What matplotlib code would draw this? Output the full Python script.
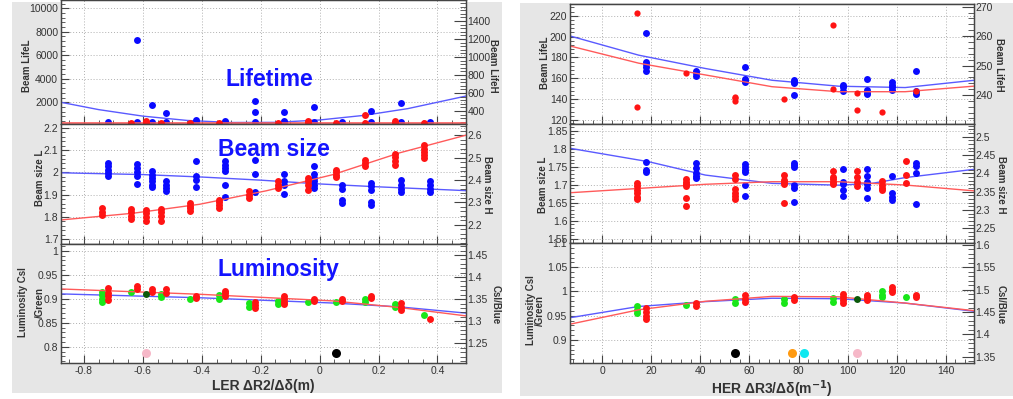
import matplotlib
matplotlib.use("Agg")
import matplotlib.pyplot as plt
from matplotlib.patches import Rectangle
from matplotlib.ticker import AutoMinorLocator, FixedLocator, FuncFormatter

plt.rcParams["font.family"] = ["Liberation Sans", "DejaVu Sans"]

# ---------------- LER scan (left panel) ----------------
ler_x_blue = [-0.72, -0.62, -0.57, -0.52, -0.42, -0.32, -0.22, -0.12, -0.02, 0.075, 0.175, 0.275, 0.375]
ler_x_red_life = [-0.64, -0.59, -0.54, -0.44, -0.34, -0.14, -0.04, 0.055, 0.155, 0.255, 0.355]
ler_x_red = [-0.74, -0.64, -0.59, -0.54, -0.44, -0.34, -0.24, -0.14, -0.04, 0.055, 0.155, 0.255, 0.355]
ler_x_green = [-0.74, -0.64, -0.54, -0.44, -0.34, -0.24, -0.14, -0.04, 0.055, 0.155, 0.255, 0.355]

ler_life_blue = [[330], [7300, 330], [1770, 330], [1065, 330], [495, 330], [410, 300],
                 [2085, 1150, 330], [1200, 440, 300], [1575, 330], [320], [1290, 330],
                 [1970, 330], [360]]
ler_life_red = [[268], [292, 268], [268], [268], [268], [268], [285, 268], [268],
                [356, 268], [290, 268], [268]]

ler_size_blue = [[2.042, 2.027, 2.012, 1.997, 1.982],
                 [2.038, 2.02, 2.002, 1.982, 1.948],
                 [2.005, 1.99, 1.975, 1.96, 1.945, 1.933],
                 [1.963, 1.945, 1.93, 1.918],
                 [2.05, 1.982, 1.967, 1.933],
                 [2.05, 2.035, 2.02, 2.005, 1.945, 1.888],
                 [2.054, 1.993, 1.91],
                 [1.993, 1.96, 1.945, 1.903],
                 [2.027, 1.993, 1.975, 1.96, 1.945, 1.93],
                 [1.942, 1.927, 1.877, 1.862],
                 [1.952, 1.937, 1.922, 1.869, 1.854],
                 [1.964, 1.945, 1.927, 1.91],
                 [1.96, 1.942, 1.927, 1.91]]
ler_size_red = [[2.274, 2.259, 2.244],
                [2.271, 2.256, 2.241, 2.226],
                [2.267, 2.252, 2.237, 2.217],
                [2.271, 2.256, 2.241, 2.217],
                [2.297, 2.286, 2.274, 2.262],
                [2.312, 2.301, 2.289, 2.277],
                [2.349, 2.334, 2.319],
                [2.394, 2.379, 2.364],
                [2.409, 2.394, 2.379, 2.357],
                [2.446, 2.436, 2.424, 2.412],
                [2.491, 2.476, 2.461],
                [2.517, 2.501, 2.483, 2.469],
                [2.555, 2.540, 2.526, 2.510, 2.499]]

ler_lumi_green = [[0.914, 0.907, 0.9, 0.893], [0.914], [0.91, 0.903], [0.9], [0.907, 0.9],
                  [0.891, 0.883], [0.896, 0.89], [0.894], [0.894], [0.9, 0.894],
                  [0.89, 0.883], [0.867]]
ler_lumi_red = [[1.376, 1.365, 1.356, 1.348], [1.380, 1.374], [1.373, 1.367], [1.373, 1.365],
                [1.357, 1.352], [1.369, 1.363, 1.357], [1.344, 1.337, 1.33],
                [1.356, 1.35, 1.344, 1.339], [1.35, 1.345], [1.35, 1.345], [1.357, 1.352],
                [1.341, 1.333, 1.326], [1.306]]
ler_extra_x = [-0.59, -0.59, 0.056]
ler_extra_y = [0.909, 0.786, 0.786]
ler_extra_c = ["#0b5a0b", "#f6b8c8", "#000000"]

# fitted curves (sampled)
ler_life_fit_x = [-0.878, -0.75, -0.6, -0.45, -0.3, -0.15, 0.0, 0.15, 0.3, 0.497]
ler_life_fit_blue = [2000, 1378, 824, 459, 283, 295, 497, 887, 1466, 2532]
ler_life_fit_red_x = [-0.878, 0.497]
ler_life_fit_red = [263, 263]
ler_size_fit_blue_x = [-0.878, -0.6, -0.4, -0.2, 0.0, 0.2, 0.497]
ler_size_fit_blue = [1.998, 1.99, 1.979, 1.965, 1.948, 1.935, 1.918]
ler_size_fit_red_x = [-0.878, -0.633, -0.407, -0.181, 0.045, 0.271, 0.497]
ler_size_fit_red = [2.222, 2.252, 2.292, 2.352, 2.424, 2.521, 2.60]
ler_lumi_fit_x = [-0.878, -0.407, 0.045, 0.271, 0.497]
ler_lumi_fit_blue = [0.91, 0.902, 0.891, 0.883, 0.87]
ler_lumi_fit_red = [1.373, 1.361, 1.346, 1.331, 1.312]

# ---------------- HER scan (right panel) ----------------
her_x_a = [14, 34, 54, 74, 94, 104, 114, 124]
her_x_b = [18, 38, 58, 78, 98, 108, 118, 128]
her_x_red_life = [14, 34, 54, 74, 94, 104, 114, 128]
her_x_green = [14, 34, 54, 74, 94, 114, 124]

her_life_blue = [[203.6, 176, 174, 171, 167], [167, 165, 162], [171, 159, 157, 156],
                 [158, 156, 155, 144], [154, 152, 148], [159, 148.5, 146, 144.5],
                 [156, 153.5, 151.5, 149], [167, 147.5, 144.5]]
her_life_red = [[267.8, 235.8], [247.6], [239.2, 238.8, 238], [238.6], [263.8, 241.9],
                [240.8, 234.9], [234.1], [241.3]]

her_size_blue = [[1.764, 1.741, 1.735],
                 [1.76, 1.746, 1.732, 1.725, 1.718],
                 [1.757, 1.75, 1.741, 1.736, 1.7, 1.669],
                 [1.761, 1.755, 1.749, 1.7, 1.69, 1.653],
                 [1.743, 1.709, 1.702, 1.686, 1.67],
                 [1.744, 1.725, 1.709, 1.702, 1.69, 1.663],
                 [1.725, 1.677, 1.667, 1.658],
                 [1.76, 1.752, 1.734, 1.646]]
her_size_red = [[2.374, 2.365, 2.354, 2.345, 2.336, 2.329],
                [2.384, 2.377, 2.371, 2.365, 2.333, 2.312],
                [2.395, 2.384, 2.356, 2.347, 2.338, 2.329],
                [2.395, 2.382, 2.377, 2.371, 2.318],
                [2.406, 2.391, 2.384, 2.377, 2.371],
                [2.406, 2.391, 2.377, 2.366],
                [2.379, 2.368, 2.359, 2.354],
                [2.434, 2.395, 2.374]]

her_lumi_green = [[0.969, 0.962, 0.955], [0.972], [0.984, 0.977], [0.984, 0.977],
                  [0.986, 0.979], [1.0, 0.993, 0.988], [0.988]]
her_lumi_red = [[1.459, 1.451, 1.442, 1.434], [1.470, 1.463], [1.487, 1.479, 1.472],
                [1.484, 1.476], [1.49, 1.484, 1.476, 1.47], [1.489, 1.484, 1.478],
                [1.507, 1.5, 1.494], [1.489, 1.484]]
her_extra_x = [104, 54.3, 77.4, 82.3, 103.7]
her_extra_y = [0.984, 0.873, 0.873, 0.873, 0.873]
her_extra_c = ["#0b5a0b", "#000000", "#ff9a10", "#10e8f0", "#f6b8c8"]

her_fit_x = [-13, 14.8, 42, 69.2, 96.4, 123.5, 151.7]
her_life_fit_blue = [200.5, 182.2, 169.4, 158.1, 152.4, 151.1, 158.1]
her_life_fit_red = [256.6, 250.8, 246.8, 242.8, 241.1, 241.1, 243.0]
her_size_fit_blue_x = [-13, 18.9, 42, 69.2, 96.4, 110, 123.5, 151.7]
her_size_fit_blue = [1.801, 1.764, 1.727, 1.704, 1.699, 1.704, 1.72, 1.743]
her_size_fit_red_x = [-13, 42, 69.2, 96.4, 123.5, 151.7]
her_size_fit_red = [2.347, 2.37, 2.377, 2.377, 2.368, 2.352]
her_lumi_fit_blue = [0.946, 0.969, 0.979, 0.986, 0.985, 0.976, 0.959]
her_lumi_fit_red = [1.423, 1.455, 1.474, 1.485, 1.484, 1.47, 1.453]

ler_xticks = [-0.8, -0.6, -0.4, -0.2, 0.0, 0.2, 0.4]
her_xticks = [0, 20, 40, 60, 80, 100, 120, 140]

# ---------------- drawing ----------------
W, H = 1013, 399
fig = plt.figure(figsize=(W / 100, H / 100), dpi=100)
fig.patch.set_facecolor("white")

BLUE, RED, GREEN = "#0a0aff", "#ff1414", "#19e619"
LBLUE, LRED = "#5a5aff", "#ff5a5a"
TXT = "#333333"
fmt = FuncFormatter(lambda v, p: f"{v:g}")


def rect(x0, y0, x1, y1):
    return [x0 / W, 1 - y1 / H, (x1 - x0) / W, (y1 - y0) / H]


for (x0, y0, x1, y1) in [(12, 2, 502, 393), (520, 3, 1013, 396)]:
    fig.add_artist(Rectangle((x0 / W, 1 - y1 / H), (x1 - x0) / W, (y1 - y0) / H,
                             transform=fig.transFigure, facecolor="#e6e6e6",
                             edgecolor="none", zorder=0))


def cell(box, xlim, xticks, xminor, ylim, yticks, ylim_r, yticks_r, bottom):
    ax = fig.add_axes(rect(*box))
    ax.set_facecolor("white")
    ax.set_xlim(xlim)
    ax.set_ylim(ylim)
    ax.xaxis.set_major_locator(FixedLocator(xticks))
    ax.xaxis.set_minor_locator(AutoMinorLocator(xminor))
    ax.yaxis.set_major_locator(FixedLocator(yticks))
    ax.yaxis.set_minor_locator(AutoMinorLocator(5))
    ax.xaxis.set_major_formatter(fmt)
    ax.yaxis.set_major_formatter(fmt)
    ax.grid(True, which="major", ls=(0, (1, 2)), color="#b0b0b0", lw=0.7)
    ax.tick_params(which="both", direction="in", colors="#444444", labelcolor=TXT,
                   labelsize=7.5, top=False, right=False)
    ax.tick_params(which="major", length=6, width=0.8, pad=2)
    ax.tick_params(which="minor", length=3, width=0.6)
    ax.tick_params(axis="x", labelbottom=bottom, pad=2.5)
    axr = ax.twinx()
    axr.set_ylim(ylim_r)
    axr.yaxis.set_major_locator(FixedLocator(yticks_r))
    axr.yaxis.set_minor_locator(AutoMinorLocator(5))
    axr.yaxis.set_major_formatter(fmt)
    axr.tick_params(which="both", direction="in", colors="#444444", labelcolor=TXT,
                    labelsize=7.5)
    axr.tick_params(which="major", length=9, width=0.8, pad=1)
    axr.tick_params(which="minor", length=4, width=0.6)
    for a in (ax, axr):
        for s in a.spines.values():
            s.set_color("#444444")
            s.set_linewidth(0.9)
    return ax, axr


def dots(ax, xs, groups, color, ms=5):
    px = [x for x, g in zip(xs, groups) for _ in g]
    py = [v for g in groups for v in g]
    ax.plot(px, py, "o", color=color, ms=ms, mec="none")


def extra_dots(ax_left, ax_right, xs, ys, colors, small_color):
    # single markers given in left-axis units, drawn on the top (right) axes
    for x, y, c in zip(xs, ys, colors):
        yr = ax_right.transData.inverted().transform(ax_left.transData.transform((x, y)))[1]
        ax_right.plot([x], [yr], "o", color=c, ms=5 if c == small_color else 6.5, mec="none")


# left panel
LX = (61, 466)
ler_xlim = (-0.878, 0.497)
a1, r1 = cell((LX[0], 0, LX[1], 123.5), ler_xlim, ler_xticks, 4,
              (198, 10700), [2000, 4000, 6000, 8000, 10000],
              (261, 1633), [400, 600, 800, 1000, 1200, 1400], False)
a1.plot(ler_life_fit_x, ler_life_fit_blue, color=LBLUE, lw=1.0)
r1.plot(ler_life_fit_red_x, ler_life_fit_red, color=LRED, lw=1.2)
dots(a1, ler_x_blue, ler_life_blue, BLUE)
dots(r1, ler_x_red_life, ler_life_red, RED)

a2, r2 = cell((LX[0], 123.5, LX[1], 243.5), ler_xlim, ler_xticks, 4,
              (1.681, 2.219), [1.7, 1.8, 1.9, 2.0, 2.1, 2.2],
              (2.117, 2.652), [2.2, 2.3, 2.4, 2.5, 2.6], False)
a2.plot(ler_size_fit_blue_x, ler_size_fit_blue, color=LBLUE, lw=1.0)
r2.plot(ler_size_fit_red_x, ler_size_fit_red, color=LRED, lw=1.0)
dots(a2, ler_x_blue, ler_size_blue, BLUE)
dots(r2, ler_x_red, ler_size_red, RED)

a3, r3 = cell((LX[0], 243.5, LX[1], 362.7), ler_xlim, ler_xticks, 4,
              (0.7667, 1.015), [0.8, 0.85, 0.9, 0.95, 1.0],
              (1.206, 1.476), [1.25, 1.3, 1.35, 1.4, 1.45], True)
a3.plot(ler_lumi_fit_x, ler_lumi_fit_blue, color=LBLUE, lw=1.0)
r3.plot(ler_lumi_fit_x, ler_lumi_fit_red, color=LRED, lw=1.0)
dots(a3, ler_x_green, ler_lumi_green, GREEN)
dots(r3, ler_x_blue, ler_lumi_red, RED)
extra_dots(a3, r3, ler_extra_x, ler_extra_y, ler_extra_c, "#0b5a0b")

# right panel
RX = (570, 974.3)
her_xlim = (-13.2, 151.7)
b1, s1 = cell((RX[0], 4, RX[1], 123.5), her_xlim, her_xticks, 5,
              (116.6, 231.3), [120, 140, 160, 180, 200, 220],
              (230.3, 270.9), [240, 250, 260, 270], False)
b1.plot(her_fit_x, her_life_fit_blue, color=LBLUE, lw=1.0)
s1.plot(her_fit_x, her_life_fit_red, color=LRED, lw=1.0)
dots(b1, her_x_b, her_life_blue, BLUE)
dots(s1, her_x_red_life, her_life_red, RED, ms=4.5)

b2, s2 = cell((RX[0], 123.5, RX[1], 242.5), her_xlim, her_xticks, 5,
              (1.540, 1.870), [1.55, 1.6, 1.65, 1.7, 1.75, 1.8, 1.85],
              (2.211, 2.536), [2.25, 2.3, 2.35, 2.4, 2.45, 2.5], False)
b2.plot(her_size_fit_blue_x, her_size_fit_blue, color=LBLUE, lw=1.0)
s2.plot(her_size_fit_red_x, her_size_fit_red, color=LRED, lw=1.0)
dots(b2, her_x_b, her_size_blue, BLUE)
dots(s2, her_x_a, her_size_red, RED)

b3, s3 = cell((RX[0], 242.5, RX[1], 362.7), her_xlim, her_xticks, 5,
              (0.853, 1.101), [0.9, 0.95, 1.0, 1.05, 1.1],
              (1.3366, 1.6056), [1.35, 1.4, 1.45, 1.5, 1.55, 1.6], True)
b3.plot(her_fit_x, her_lumi_fit_blue, color=LBLUE, lw=1.0)
s3.plot(her_fit_x, her_lumi_fit_red, color=LRED, lw=1.0)
dots(b3, her_x_green, her_lumi_green, GREEN)
dots(s3, her_x_b, her_lumi_red, RED)
extra_dots(b3, s3, her_extra_x, her_extra_y, her_extra_c, "#0b5a0b")


def ftext(x, y, s, **kw):
    fig.text(x / W, 1 - y / H, s, **kw)


lab = dict(fontsize=7, fontweight="bold", color=TXT, ha="center", va="center")
# left panel axis titles
ftext(27, 66, "Beam LifeL", rotation=90, **lab)
ftext(40, 178, "Beam size L", rotation=90, **lab)
ftext(23, 302, "Luminosity Csl", rotation=90, **lab)
ftext(39.5, 302, "/Green", rotation=90, **lab)
ftext(493, 66, "Beam LifeH", rotation=270, **lab)
ftext(487, 185, "Beam size H", rotation=270, **lab)
ftext(496, 305, "Csl/Blue", rotation=270, **lab)
# right panel axis titles
ftext(545, 63, "Beam LifeL", rotation=90, **lab)
ftext(543, 185, "Beam size L", rotation=90, **lab)
ftext(531, 310, "Luminosity Csl", rotation=90, **lab)
ftext(540, 310, "/Green", rotation=90, **lab)
ftext(999, 65, "Beam LifeH", rotation=270, **lab)
ftext(1000.5, 185, "Beam size H", rotation=270, **lab)
ftext(1000.5, 305, "Csl/Blue", rotation=270, **lab)

ftext(263, 390, "LER ΔR2/Δδ(m)", fontsize=10, fontweight="bold", color=TXT,
      ha="center", va="baseline")
ftext(772, 393.5, r"HER ΔR3/Δδ(m$^{\mathbf{-1}}$)", fontsize=10, fontweight="bold",
      color=TXT, ha="center", va="baseline")

big = dict(fontsize=16.5, fontweight="bold", color="#1414ff", ha="center", va="baseline")
ftext(269, 86.5, "Lifetime", **big)
ftext(274, 156, "Beam size", **big)
ftext(278, 276, "Luminosity", **big)

fig.savefig("out.png", dpi=100)
